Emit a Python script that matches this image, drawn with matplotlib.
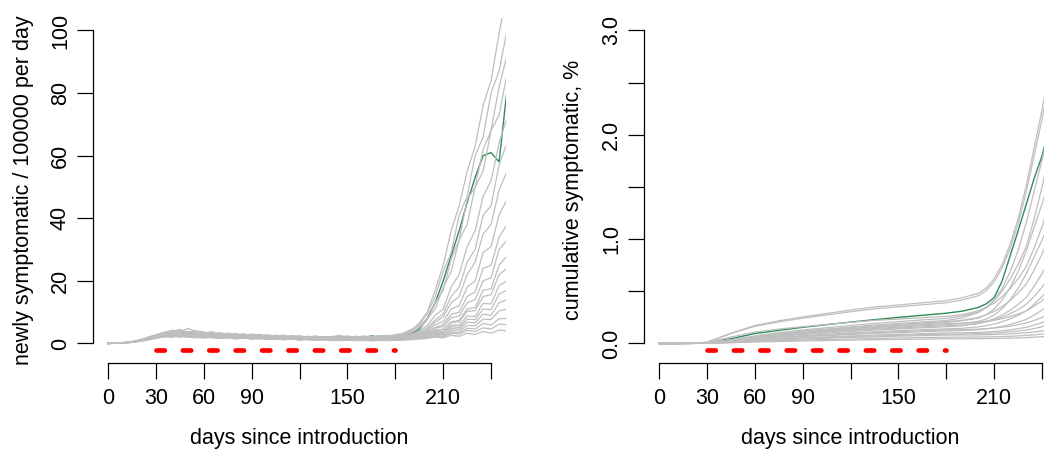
import matplotlib
matplotlib.use("Agg")
import matplotlib.pyplot as plt

# ---------------- data ----------------
days_daily = list(range(0, 251, 5))

daily_g01 = [0,0.1,0.3,0.6,1.2,2.0,
             2.8,3.5,4.2,3.6,4.8,3.9,3.2,3.8,2.9,3.3,2.7,3.1,2.4,2.9,2.2,2.6,2.0,2.5,1.9,2.3,1.8,2.2,1.7,2.0,2.4,1.9,2.1,1.6,2.0,2.3,2.6,
             3.0,4.2,6.5,10,17,25,36,44,55,63,76,84,99,112]
daily_g02 = [0,0.1,0.2,0.5,1.0,1.7,
             2.5,3.1,3.8,4.5,3.4,4.1,3.6,2.9,3.5,2.8,3.2,2.6,3.0,2.5,2.8,2.3,2.7,2.1,2.5,2.0,2.4,1.9,2.2,2.6,2.0,2.3,1.8,2.1,2.5,2.2,2.8,
             3.3,4.5,6.0,9.5,15,23,29,41,47,60,66,80,87,100]
daily_g03 = [0,0.1,0.2,0.4,0.9,1.5,
             2.2,2.9,3.3,2.7,3.9,3.1,2.6,3.4,2.4,2.9,2.2,2.7,2.0,2.5,1.9,2.3,1.7,2.1,1.6,2.0,1.5,1.9,1.4,1.8,1.6,2.0,1.5,1.8,2.1,1.9,2.3,
             2.6,3.4,5.0,7.5,13,17,27,33,46,50,62,68,82,92]
daily_g04 = [0,0.1,0.2,0.5,1.1,1.9,
             2.7,3.6,3.0,4.3,3.5,2.8,3.7,3.1,2.6,3.2,2.5,2.9,2.3,2.7,2.1,2.6,2.0,2.4,2.2,1.8,2.3,1.9,2.1,1.7,2.2,1.9,2.4,2.0,2.3,2.6,2.4,
             2.9,3.8,5.5,8.0,11,18,23,33,38,50,55,68,73,86]
daily_g05 = [0,0.1,0.2,0.4,0.8,1.4,
             2.0,2.6,3.1,2.5,3.3,2.8,2.3,2.9,2.1,2.6,2.0,2.4,1.8,2.2,1.7,2.1,1.6,1.9,1.5,1.8,1.4,1.7,1.5,1.9,1.6,1.8,1.4,1.7,2.0,1.8,2.1,
             2.3,2.9,4.0,5.8,9.0,11,18,22,31,36,47,52,64,72]
daily_g06 = [0,0.1,0.2,0.5,1.0,1.6,
             2.4,3.0,3.7,3.2,2.7,3.5,2.9,2.5,3.1,2.4,2.8,2.2,2.6,2.0,2.4,1.9,2.3,1.8,2.1,1.7,2.0,1.6,1.9,2.2,1.7,2.0,1.8,2.1,1.9,2.2,2.0,
             2.4,2.8,3.6,5.0,7.5,9.5,15,18,26,30,41,44,57,64]
daily_g07 = [0,0.1,0.3,0.6,1.1,1.8,
             2.6,3.2,2.8,3.9,3.3,2.7,3.4,2.8,2.4,3.0,2.3,2.7,2.1,2.5,2.0,2.3,1.8,2.2,1.7,2.0,1.6,1.9,1.5,1.8,1.7,1.5,1.9,1.6,1.8,2.0,1.8,
             2.1,2.6,3.3,4.5,6.8,8.5,13,15,22,26,35,38,49,55]
daily_g08 = [0,0.1,0.2,0.4,0.9,1.5,
             2.1,2.7,3.3,2.8,3.5,2.6,3.0,2.4,2.8,2.2,2.6,2.0,2.4,1.9,2.2,1.8,2.1,1.6,1.9,1.5,1.8,1.4,1.7,1.6,1.4,1.7,1.5,1.8,1.6,1.9,1.7,
             2.0,2.4,3.0,4.0,6.0,7.0,11,12,18,20,29,31,41,46]
daily_g09 = [0,0.1,0.2,0.5,1.0,1.6,
             2.3,2.9,3.4,3.0,2.6,3.3,2.7,2.3,2.9,2.2,2.6,2.0,2.4,1.9,2.2,1.7,2.0,1.6,1.9,1.5,1.8,1.6,1.4,1.7,1.5,1.8,1.6,1.4,1.7,1.9,1.6,
             1.9,2.2,2.8,3.6,5.2,6.0,9.3,10,15,16.5,24,25,34,38]
daily_g10 = [0,0.1,0.2,0.4,0.8,1.3,
             1.9,2.5,2.9,2.4,3.1,2.6,2.2,2.7,2.0,2.4,1.9,2.2,1.7,2.1,1.6,1.9,1.5,1.8,1.4,1.7,1.3,1.6,1.5,1.3,1.6,1.4,1.7,1.5,1.8,1.6,1.8,
             2.0,2.3,2.9,3.5,4.9,5.4,8.2,8.8,13,14,20,21,30,33]
daily_g11 = [0,0.1,0.2,0.5,0.9,1.5,
             2.2,2.8,2.4,3.2,2.7,2.3,2.9,2.4,2.0,2.6,2.1,2.4,1.9,2.2,1.8,2.1,1.7,2.0,1.6,1.9,1.5,1.8,1.6,1.4,1.7,1.5,1.3,1.6,1.4,1.7,1.5,
             1.7,2.0,2.4,3.0,4.2,4.5,6.9,7.4,11,11.5,17,17.5,25,28]
daily_g12 = [0,0.1,0.3,0.6,1.1,1.7,
             2.4,3.0,3.5,2.9,3.2,2.5,2.9,2.3,2.7,2.1,2.5,1.9,2.3,1.8,2.1,1.7,2.0,1.5,1.8,1.6,1.4,1.7,1.5,1.3,1.6,1.4,1.6,1.3,1.5,1.7,1.6,
             1.8,2.0,2.5,3.1,4.3,4.5,6.7,6.9,10.2,10.5,15,15.6,22,24]
daily_g13 = [0,0.1,0.2,0.4,0.8,1.4,
             2.0,2.6,3.0,2.5,2.9,2.3,2.7,2.1,2.5,2.0,2.3,1.8,2.1,1.7,2.0,1.6,1.8,1.5,1.7,1.4,1.6,1.3,1.5,1.4,1.2,1.5,1.3,1.4,1.2,1.5,1.4,
             1.6,1.9,2.3,2.8,3.8,3.9,5.9,5.8,8.8,8.6,12.8,12.6,18.5,20]
daily_g14 = [0,0.1,0.2,0.5,1.0,1.6,
             2.2,2.7,3.2,2.8,2.4,3.0,2.5,2.2,2.6,2.0,2.4,1.9,2.2,1.7,2.0,1.6,1.9,1.5,1.7,1.4,1.6,1.3,1.5,1.3,1.4,1.2,1.4,1.3,1.5,1.3,1.5,
             1.7,1.9,2.2,2.6,3.6,3.5,5.4,5.1,7.8,7.6,11,10.8,15.8,17]
daily_g15 = [0,0.1,0.2,0.4,0.7,1.2,
             1.8,2.3,2.7,2.2,2.8,2.3,2.0,2.5,1.9,2.2,1.7,2.0,1.6,1.9,1.5,1.8,1.4,1.7,1.3,1.6,1.4,1.2,1.5,1.3,1.2,1.4,1.1,1.3,1.2,1.4,1.3,
             1.5,1.7,2.0,2.4,3.3,3.2,4.8,4.6,6.8,6.6,9.4,9.0,13,14]
daily_g16 = [0,0.1,0.2,0.5,0.9,1.5,
             2.1,2.6,2.2,2.9,2.4,2.0,2.6,2.1,1.8,2.3,1.9,2.1,1.7,1.9,1.6,1.8,1.4,1.7,1.3,1.5,1.2,1.4,1.3,1.1,1.3,1.2,1.0,1.3,1.1,1.2,1.3,
             1.4,1.6,1.9,2.2,2.9,2.8,4.2,4.0,5.8,5.6,7.8,7.6,10.4,11]
daily_g17 = [0,0.1,0.2,0.4,0.8,1.3,
             1.9,2.4,2.8,2.3,2.0,2.5,2.1,1.8,2.2,1.7,2.0,1.6,1.8,1.5,1.7,1.4,1.6,1.3,1.5,1.2,1.4,1.1,1.3,1.2,1.0,1.2,1.1,1.0,1.2,1.1,1.2,
             1.3,1.5,1.7,1.9,2.5,2.4,3.6,3.4,4.9,4.6,6.4,5.9,7.9,8.0]
daily_g18 = [0,0.1,0.2,0.3,0.7,1.1,
             1.6,2.1,2.5,2.0,2.4,1.9,1.7,2.1,1.6,1.9,1.5,1.7,1.4,1.6,1.3,1.5,1.2,1.4,1.1,1.3,1.0,1.2,1.1,0.9,1.1,1.0,0.9,1.1,1.0,1.2,1.1,
             1.2,1.4,1.6,1.8,2.3,2.2,3.2,3.0,4.2,3.8,5.0,4.6,6.2,6.0]
daily_g19 = [0,0.1,0.2,0.4,0.8,1.3,
             1.8,2.2,1.9,2.6,2.1,1.8,2.3,1.9,1.6,2.0,1.5,1.8,1.4,1.6,1.3,1.5,1.2,1.4,1.1,1.3,1.0,1.2,0.9,1.1,1.0,0.9,1.1,0.8,1.0,0.9,1.0,
             1.1,1.2,1.4,1.6,2.0,1.8,2.6,2.3,3.3,2.9,3.8,3.3,4.3,4.0]
daily_green = [0,0.1,0.2,0.5,1.0,1.7,
               2.4,3.0,3.6,3.1,3.8,3.2,2.7,3.3,2.6,3.0,2.4,2.8,2.2,2.6,2.1,2.5,2.0,2.3,1.9,2.2,1.8,2.1,1.9,2.3,2.0,2.2,1.9,2.4,2.1,2.5,2.3,
               2.8,3.2,4.5,8.0,13,20,28,36,45,53,60,61,58,81]

daily_runs = [daily_g01, daily_g02, daily_g03, daily_g04, daily_g05, daily_g06,
              daily_g07, daily_g08, daily_g09, daily_g10, daily_g11, daily_g12,
              daily_g13, daily_g14, daily_g15, daily_g16, daily_g17, daily_g18,
              daily_g19]

days_cum = [0,10,20,30,45,60,75,90,105,120,135,150,165,180,
            190,200,205,210,215,220,225,230,235,240,245,250]

cum_s01 = [0,0,0.002,0.012,0.098,0.172,0.217,0.254,0.287,0.32,0.349,0.369,0.39,0.41,
           0.439,0.48,0.531,0.62,0.758,0.95,1.197,1.508,1.874,2.24,2.643,3.045]
cum_s02 = [0,0,0.002,0.012,0.094,0.164,0.207,0.242,0.273,0.304,0.332,0.351,0.371,0.39,
           0.418,0.457,0.506,0.592,0.724,0.909,1.147,1.446,1.798,2.15,2.537,2.924]
cum_s03 = [0,0,0.001,0.007,0.036,0.072,0.103,0.13,0.151,0.173,0.192,0.209,0.226,0.24,
           0.264,0.298,0.34,0.415,0.529,0.688,0.894,1.152,1.456,1.76,2.094,2.429]
cum_s04 = [0,0,0.001,0.007,0.033,0.066,0.095,0.119,0.139,0.158,0.176,0.191,0.207,0.22,
           0.246,0.297,0.348,0.412,0.502,0.617,0.758,0.924,1.193,1.5,1.858,2.268]
cum_s05 = [0,0,0.001,0.006,0.03,0.06,0.086,0.108,0.126,0.144,0.16,0.174,0.188,0.2,
           0.218,0.243,0.275,0.331,0.417,0.536,0.69,0.884,1.112,1.34,1.591,1.842]
cum_s06 = [0,0,0.001,0.008,0.062,0.109,0.138,0.161,0.182,0.203,0.221,0.234,0.247,0.26,
           0.277,0.312,0.346,0.389,0.449,0.527,0.621,0.733,0.914,1.12,1.361,1.636]
cum_s07 = [0,0,0.001,0.005,0.027,0.054,0.077,0.097,0.113,0.13,0.144,0.157,0.169,0.18,
           0.193,0.211,0.233,0.273,0.334,0.419,0.528,0.666,0.828,0.99,1.168,1.346]
cum_s08 = [0,0,0.001,0.006,0.032,0.063,0.09,0.113,0.132,0.151,0.168,0.183,0.197,0.21,
           0.223,0.249,0.275,0.308,0.353,0.412,0.483,0.568,0.704,0.86,1.042,1.25]
cum_s09 = [0,0,0.001,0.005,0.024,0.048,0.069,0.086,0.101,0.115,0.128,0.139,0.15,0.16,
           0.17,0.191,0.211,0.237,0.272,0.318,0.374,0.441,0.548,0.67,0.813,0.976]
cum_s10 = [0,0,0.001,0.005,0.026,0.051,0.073,0.092,0.107,0.122,0.136,0.148,0.16,0.17,
           0.177,0.192,0.207,0.226,0.251,0.285,0.325,0.374,0.451,0.54,0.644,0.762]
cum_s11 = [0,0,0.001,0.004,0.021,0.042,0.06,0.076,0.088,0.101,0.112,0.122,0.132,0.14,
           0.146,0.159,0.171,0.187,0.208,0.236,0.27,0.311,0.376,0.45,0.537,0.636]
cum_s12 = [0,0,0.001,0.006,0.029,0.057,0.082,0.103,0.12,0.137,0.152,0.165,0.179,0.19,
           0.194,0.203,0.212,0.223,0.238,0.258,0.282,0.311,0.357,0.41,0.472,0.542]
cum_s13 = [0,0,0.001,0.004,0.018,0.036,0.052,0.065,0.076,0.086,0.096,0.104,0.113,0.12,
           0.124,0.132,0.14,0.15,0.164,0.182,0.204,0.23,0.272,0.32,0.376,0.44]
cum_s14 = [0,0,0.001,0.004,0.02,0.039,0.056,0.07,0.082,0.094,0.104,0.113,0.122,0.13,
           0.132,0.137,0.142,0.148,0.156,0.167,0.18,0.196,0.221,0.25,0.284,0.322]
cum_s15 = [0,0,0.001,0.003,0.015,0.03,0.043,0.054,0.063,0.072,0.08,0.087,0.094,0.1,
           0.102,0.106,0.11,0.115,0.122,0.131,0.142,0.155,0.176,0.2,0.228,0.26]
cum_s16 = [0,0,0,0.003,0.014,0.027,0.039,0.049,0.057,0.065,0.072,0.078,0.085,0.09,
           0.091,0.094,0.097,0.101,0.105,0.112,0.119,0.129,0.143,0.16,0.18,0.202]
cum_s17 = [0,0,0,0.002,0.012,0.024,0.034,0.043,0.05,0.058,0.064,0.07,0.075,0.08,
           0.081,0.082,0.084,0.086,0.089,0.092,0.097,0.102,0.11,0.12,0.131,0.144]
cum_s18 = [0,0,0,0.002,0.009,0.018,0.026,0.032,0.038,0.043,0.048,0.052,0.056,0.06,
           0.061,0.062,0.063,0.065,0.067,0.069,0.073,0.077,0.083,0.09,0.098,0.108]
cum_s19 = [0,0,0,0.001,0.007,0.014,0.019,0.024,0.028,0.032,0.036,0.039,0.042,0.045,
           0.045,0.046,0.047,0.048,0.049,0.051,0.053,0.056,0.06,0.065,0.071,0.077]
cum_green = [0,0,0.001,0.006,0.045,0.095,0.125,0.155,0.18,0.205,0.228,0.25,0.27,0.29,
             0.31,0.345,0.38,0.44,0.6,0.84,1.08,1.33,1.58,1.80,2.1,2.45]

cum_runs = [cum_s01, cum_s02, cum_s03, cum_s04, cum_s05, cum_s06, cum_s07,
            cum_s08, cum_s09, cum_s10, cum_s11, cum_s12, cum_s13, cum_s14,
            cum_s15, cum_s16, cum_s17, cum_s18, cum_s19]

x_ticks = [0, 30, 60, 90, 120, 150, 180, 210, 240]
x_tick_labels = ["0", "30", "60", "90", "", "150", "", "210", ""]
left_yticks = [0, 20, 40, 60, 80, 100]
left_ytick_labels = ["0", "20", "40", "60", "80", "100"]
right_yticks = [0, 0.5, 1.0, 1.5, 2.0, 2.5, 3.0]
right_ytick_labels = ["0.0", "", "1.0", "", "2.0", "", "3.0"]
intervention_days = [30, 180]
left_intervention_level = -2
right_intervention_level = -0.06

# ---------------- style ----------------
plt.rcParams["font.family"] = ["Liberation Sans", "DejaVu Sans"]
plt.rcParams["font.size"] = 15.5
plt.rcParams["lines.scale_dashes"] = False

GREY = "#BEBEBE"
GREEN = "#2E8B57"
W, H = 1044, 449
FS = 15.5

fig = plt.figure(figsize=(W / 100, H / 100), dpi=100)


def px_axes(x0, x1, y0, y1):
    return fig.add_axes([x0 / W, 1 - y1 / H, (x1 - x0) / W, (y1 - y0) / H])


axL = px_axes(92.7, 506.4, 17.7, 362.5)
axR = px_axes(643.7, 1057.4, 17.7, 362.5)


def style(ax, ylim, yticks, ylabels, ybounds):
    ax.set_xlim(-9.6, 249.6)
    ax.set_ylim(*ylim)
    for s in ("top", "right"):
        ax.spines[s].set_visible(False)
    ax.spines["left"].set_bounds(*ybounds)
    ax.spines["bottom"].set_bounds(0, 240)
    for s in ("left", "bottom"):
        ax.spines[s].set_linewidth(0.9)
    ax.set_xticks(x_ticks)
    ax.set_xticklabels(x_tick_labels)
    ax.set_yticks(yticks)
    ax.set_yticklabels(ylabels)
    ax.tick_params(axis="both", direction="out", length=11.2, width=0.9,
                   labelsize=FS)
    ax.tick_params(axis="x", pad=7.0)
    ax.tick_params(axis="y", pad=4.5)
    for lab in ax.get_yticklabels():
        lab.set_rotation(90)
        lab.set_va("center")
        lab.set_ha("right")


# left panel
axL.plot(days_daily, daily_green, color=GREEN, lw=1.0, zorder=2)
for run in daily_runs:
    axL.plot(days_daily, run, color=GREY, lw=0.9, zorder=2)
axL.plot(intervention_days, [left_intervention_level] * 2, color="red", lw=3.4,
         dashes=(6.0, 13.0), dash_capstyle="round", zorder=3)
style(axL, (-6.08, 104.08), left_yticks, left_ytick_labels, (0, 100))

# right panel
axR.plot(days_cum, cum_green, color=GREEN, lw=1.0, zorder=2)
for run in cum_runs:
    axR.plot(days_cum, run, color=GREY, lw=0.9, zorder=2)
axR.plot(intervention_days, [right_intervention_level] * 2, color="red", lw=3.4,
         dashes=(6.0, 13.0), dash_capstyle="round", zorder=3)
style(axR, (-0.1824, 3.1224), right_yticks, right_ytick_labels, (0, 3))

# axis titles
fig.text(299.5 / W, 1 - 444 / H, "days since introduction", ha="center",
         va="baseline", fontsize=FS)
fig.text(850.5 / W, 1 - 444 / H, "days since introduction", ha="center",
         va="baseline", fontsize=FS)
fig.text(24 / W, 1 - 190 / H, "newly symptomatic / 100000 per day",
         rotation=90, ha="center", va="center", fontsize=FS)
fig.text(574 / W, 1 - 190 / H, "cumulative symptomatic, %",
         rotation=90, ha="center", va="center", fontsize=FS)

fig.savefig("out.png", dpi=100)
